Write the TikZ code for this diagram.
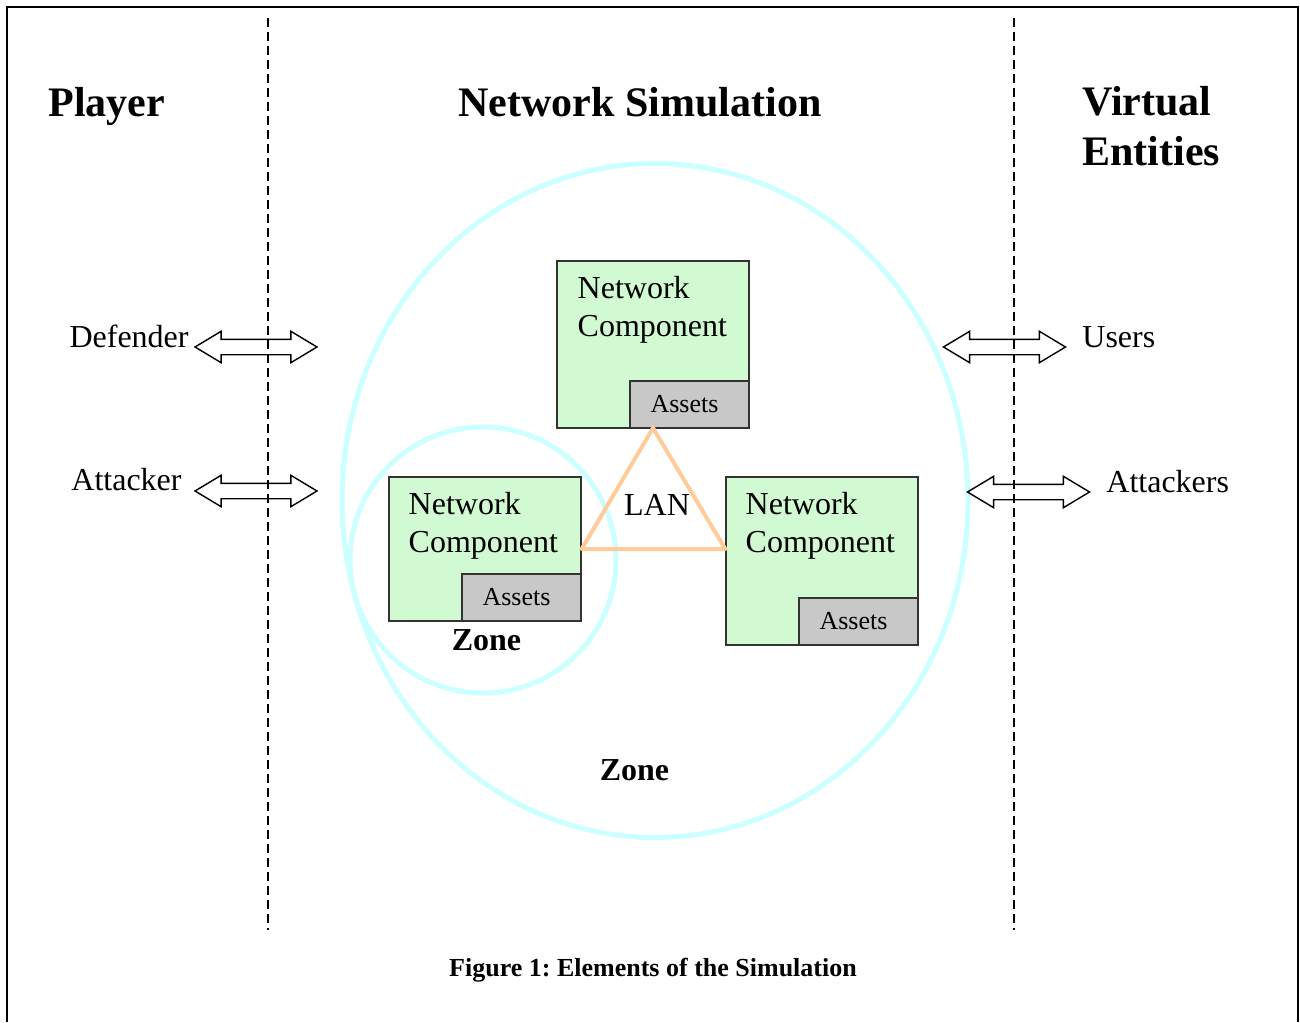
\documentclass[tikz,border=0pt]{standalone}
\usepackage{fontspec}
\setmainfont{Liberation Serif}
\frenchspacing
\usetikzlibrary{shapes,positioning}
\definecolor{zonecyan}{HTML}{CCFFFF}
\definecolor{lanpeach}{HTML}{FFCC99}
\definecolor{ncgreen}{HTML}{D2FAD2}
\definecolor{assetgray}{HTML}{C8C8C8}

\begin{document}
\begin{tikzpicture}[x=0.5pt,y=-0.5pt,
    ncbox/.style={draw=black!80, fill=ncgreen, line width=0.7pt, inner sep=0pt, minimum width=96pt},
    assetbox/.style={draw=black!80, fill=assetgray, line width=0.7pt, inner sep=0pt,
      minimum width=59.5pt, minimum height=23.5pt, font=\fontsize{13}{15}\selectfont},
    nctext/.style={inner sep=0pt, align=left, font=\fontsize{16}{19}\selectfont},
    lbl/.style={inner sep=0pt, font=\fontsize{16}{19}\selectfont},
    hdg/.style={inner sep=0pt, align=left, font=\fontsize{21}{25}\selectfont\bfseries},
    zonelbl/.style={inner sep=0pt, font=\fontsize{16}{19}\selectfont\bfseries},
    dblarrow/.style={double arrow, draw, line width=0.7pt, inner xsep=0pt, inner ysep=3.5pt,
      minimum height=61pt, double arrow head extend=4pt, double arrow tip angle=62},
    zoneline/.style={draw=zonecyan, line width=2.5pt},
    divider/.style={line width=0.8pt, dash pattern=on 4.5pt off 2.5pt}]
  \useasboundingbox (0,0) rectangle (1300,1022);
  \draw[line width=1pt] (7,1022) -- (7,7) -- (1298,7) -- (1298,1022);
  \draw[divider] (268,18) -- (268,930);
  \draw[divider] (1014,18) -- (1014,930);

  % headings
  \node[hdg, anchor=base west] (playerhd) at (48,117) {Player};
  \node[hdg, anchor=base] (simhd) at (640,117) {Network Simulation};
  \node[hdg, anchor=north west] (virthd) at (1082,86) {Virtual\\Entities};

  % zones
  \draw[zoneline] (655,500.5) ellipse [x radius=313, y radius=337];
  \draw[zoneline] (483,560) circle [radius=133];

  % network components
  \node[ncbox, minimum height=83.5pt] (nctop) at (653,344.5) {};
  \node[ncbox, minimum height=72pt] (ncleft) at (485,549) {};
  \node[ncbox, minimum height=84pt] (ncright) at (822,561) {};
  \node[nctext, anchor=north west] (nctoptxt) at ([shift={(21,16)}]nctop.north west) {Network\\Component};
  \node[nctext, anchor=north west] (nclefttxt) at ([shift={(20,16)}]ncleft.north west) {Network\\Component};
  \node[nctext, anchor=north west] (ncrighttxt) at ([shift={(20,16)}]ncright.north west) {Network\\Component};
  \node[assetbox, anchor=south east] (astop) at (nctop.south east) {Assets\kern5pt};
  \node[assetbox, anchor=south east] (asleft) at (ncleft.south east) {Assets\kern5pt};
  \node[assetbox, anchor=south east] (asright) at (ncright.south east) {Assets\kern5pt};

  % LAN
  \coordinate (lantop) at (653,428);
  \draw[draw=lanpeach, line width=2pt, line join=round] (lantop) -- (ncleft.east) -- (ncright.west |- ncleft.east) -- cycle;
  \node[lbl, anchor=base] (lanlbl) at (657,515) {LAN};

  \node[zonelbl, anchor=base] (zonein) at (486.5,650) {Zone};
  \node[zonelbl, anchor=base] (zoneout) at (634.5,780) {Zone};

  % players and entities
  \node[dblarrow] (defarrow) at (256,347) {};
  \node[dblarrow] (attarrow) at (256,491) {};
  \node[dblarrow] (usrarrow) at (1004.5,347) {};
  \node[dblarrow] (attsarrow) at (1028.5,492) {};
  \node[lbl, anchor=base east] (deflbl) at (189,347) {Defender};
  \node[lbl, anchor=base west] (attlbl) at (71,490) {Attacker};
  \node[lbl, anchor=base west] (usrlbl) at (1082,347) {Users};
  \node[lbl, anchor=base west] (attslbl) at (1106,492) {Attackers};

  \node[inner sep=0pt, anchor=base, font=\fontsize{13}{15}\selectfont\bfseries] (caption) at (653,976) {Figure 1: Elements of the Simulation};
\end{tikzpicture}
\end{document}
